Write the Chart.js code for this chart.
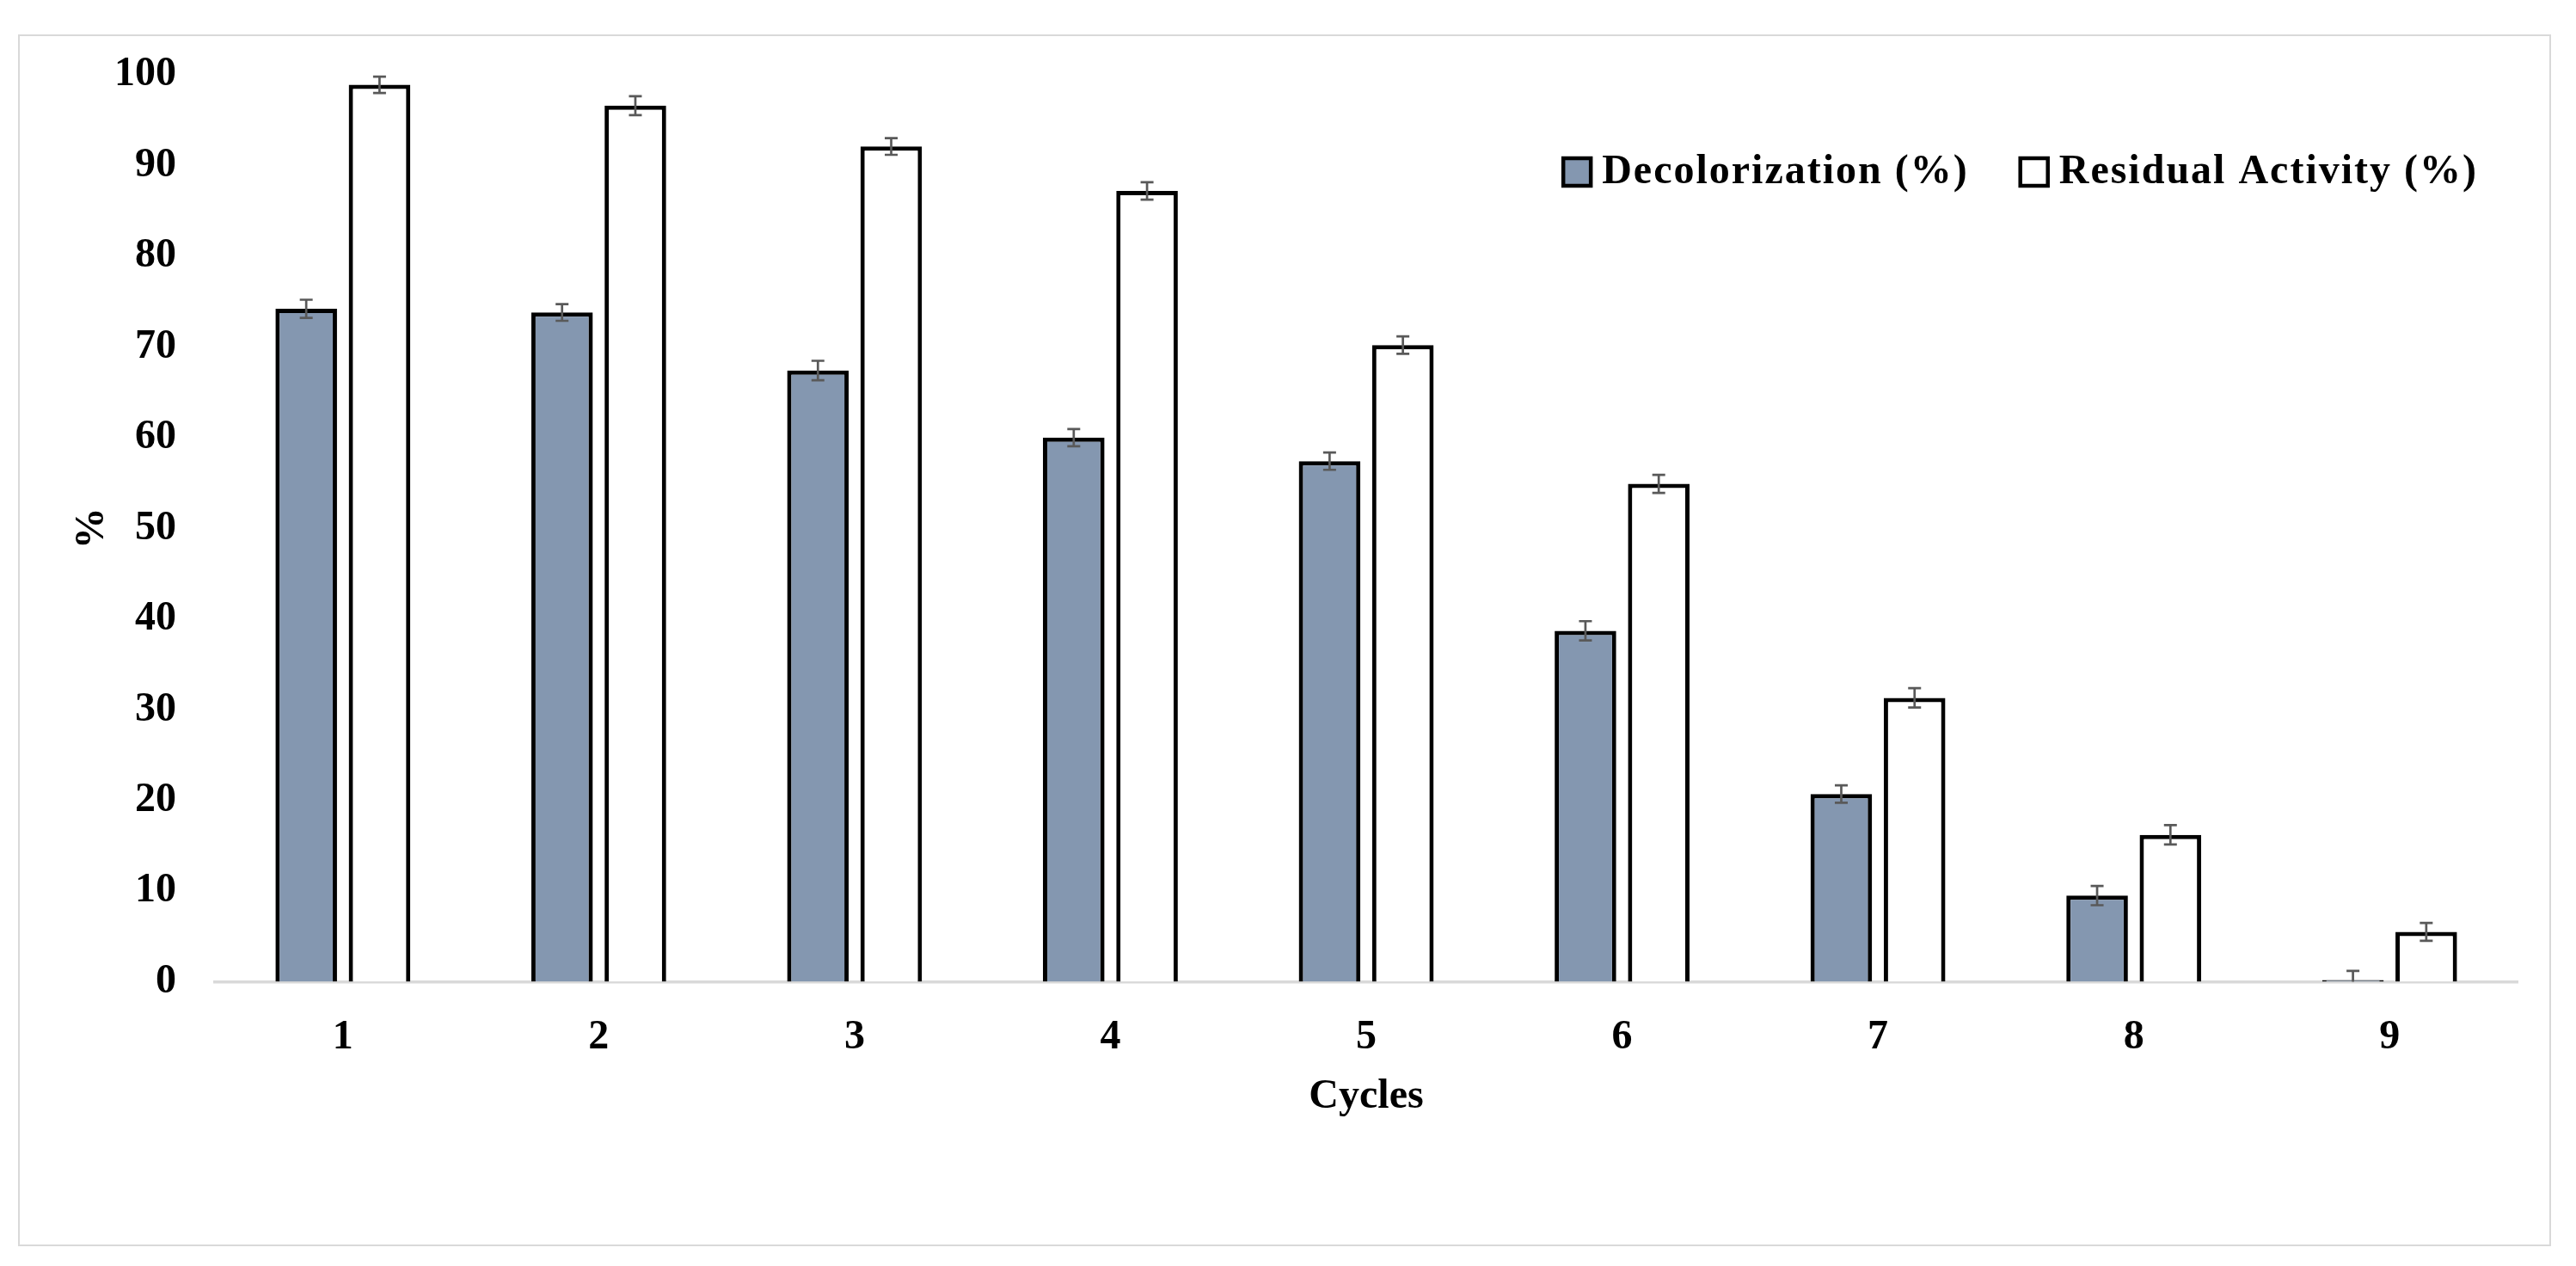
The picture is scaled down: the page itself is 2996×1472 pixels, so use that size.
<!DOCTYPE html>
<html>
<head>
<meta charset="utf-8">
<script src="https://cdn.jsdelivr.net/npm/chart.js@4.4.1/dist/chart.umd.min.js"></script>
<style>
  html, body { margin: 0; padding: 0; background: #ffffff; overflow: hidden; }
  #wrap { position: relative; width: 2996px; height: 1472px; }
  #frame { position: absolute; left: 21px; top: 40px; width: 2942px; height: 1405px;
           border: 2.5px solid #d9d9d9; pointer-events: none; }
  canvas { position: absolute; left: 0; top: 0; }
</style>
</head>
<body>
<div id="wrap">
  <canvas id="c" width="2996" height="1472"></canvas>
  <div id="frame"></div>
</div>
<script>
// ---- data ----
const cycles = ['1', '2', '3', '4', '5', '6', '7', '8', '9'];
const decolorization = [74.2, 73.8, 67.4, 60.0, 57.4, 38.7, 20.7, 9.5, 0.2];
const decolorizationErr = [1.0, 0.92, 1.07, 0.95, 0.95, 1.06, 0.96, 1.06, 1.0];
const residualActivity = [98.9, 96.6, 92.1, 87.2, 70.2, 54.9, 31.3, 16.2, 5.5];
const residualActivityErr = [0.9, 1.04, 0.92, 0.96, 0.96, 1.0, 1.07, 1.07, 0.98];
const yTicks = [0, 10, 20, 30, 40, 50, 60, 70, 80, 90, 100];

const seriesLabels = ['Decolorization (%)', 'Residual Activity (%)'];
const errors = [decolorizationErr, residualActivityErr];

const FONT = '"Liberation Serif", "Times New Roman", serif';

const errorBarPlugin = {
  id: 'errorBars',
  afterDatasetsDraw(chart) {
    const ctx = chart.ctx;
    const yScale = chart.scales.y;
    ctx.save();
    ctx.strokeStyle = '#595959';
    ctx.lineWidth = 2.7;
    chart.data.datasets.forEach((ds, di) => {
      const meta = chart.getDatasetMeta(di);
      meta.data.forEach((el, i) => {
        const v = ds.data[i];
        const e = errors[di][i];
        const x = el.x;
        const yHi = yScale.getPixelForValue(v + e);
        const yLo = yScale.getPixelForValue(Math.max(v - e, 0));
        const cap = 7.5;
        ctx.beginPath();
        ctx.moveTo(x, yHi); ctx.lineTo(x, yLo);
        ctx.moveTo(x - cap, yHi); ctx.lineTo(x + cap, yHi);
        if (v - e > 0) { ctx.moveTo(x - cap, yLo); ctx.lineTo(x + cap, yLo); }
        ctx.stroke();
      });
    });
    ctx.restore();
  }
};

// legend drawn inside the plot area, top-right, from the library's generated legend items
const insideLegendPlugin = {
  id: 'insideLegend',
  afterDraw(chart) {
    const ctx = chart.ctx;
    const area = chart.chartArea;
    const items = Chart.defaults.plugins.legend.labels.generateLabels(chart);
    const fontSize = 48;
    const box = 32, gapText = 13, itemGap = 60;
    ctx.save();
    ctx.font = 'bold ' + fontSize + 'px ' + FONT;
    if ('letterSpacing' in ctx) ctx.letterSpacing = '2px';
    ctx.textBaseline = 'middle';
    ctx.textAlign = 'left';
    const y = area.top + 113;
    let right = area.right - 46;
    const pos = [];
    for (let i = items.length - 1; i >= 0; i--) {
      const w = ctx.measureText(items[i].text).width;
      const textX = right - w;
      const boxX = textX - gapText - box;
      pos[i] = { textX, boxX };
      right = boxX - itemGap;
    }
    items.forEach((it, i) => {
      const p = pos[i];
      ctx.fillStyle = it.fillStyle;
      ctx.fillRect(p.boxX, y - box / 2, box, box);
      ctx.lineWidth = 4.5;
      ctx.strokeStyle = it.strokeStyle;
      ctx.strokeRect(p.boxX, y - box / 2, box, box);
      ctx.fillStyle = '#000000';
      ctx.fillText(it.text, p.textX, y + 1);
    });
    ctx.restore();
  }
};

new Chart(document.getElementById('c'), {
  type: 'bar',
  data: {
    labels: cycles,
    datasets: [
      {
        label: seriesLabels[0],
        data: decolorization,
        backgroundColor: '#8497b0',
        borderColor: '#000000',
        borderWidth: 5,
        categoryPercentage: 0.573,
        barPercentage: 0.84
      },
      {
        label: seriesLabels[1],
        data: residualActivity,
        backgroundColor: '#ffffff',
        borderColor: '#000000',
        borderWidth: 5,
        categoryPercentage: 0.573,
        barPercentage: 0.84
      }
    ]
  },
  options: {
    responsive: false,
    devicePixelRatio: 1,
    animation: false,
    layout: { padding: { left: 76, right: 68, top: 87, bottom: 168 } },
    plugins: {
      tooltip: { enabled: false },
      legend: { display: false }
    },
    scales: {
      x: {
        z: 1,
        grid: { display: false, drawTicks: false },
        border: { display: true, color: '#d9d9d9', width: 3.5 },
        ticks: { color: '#000000', font: { family: FONT, size: 48, weight: 'bold' }, padding: 36 },
        title: { display: true, text: 'Cycles', color: '#000000',
                 font: { family: FONT, size: 48, weight: 'bold' }, padding: { top: 0, bottom: 0 } },
        afterFit(scale) { scale.height = 162.5; }
      },
      y: {
        min: 0,
        max: 100,
        afterBuildTicks(scale) { scale.ticks = yTicks.map(v => ({ value: v })); },
        grid: { display: false, drawTicks: false },
        border: { display: false },
        ticks: { color: '#000000', font: { family: FONT, size: 48, weight: 'bold' }, padding: 45 },
        title: { display: true, text: '%', color: '#000000',
                 font: { family: FONT, size: 48, weight: 'bold' }, padding: { top: 3, bottom: 0 } },
        afterFit(scale) { scale.width = 174; }
      }
    }
  },
  plugins: [errorBarPlugin, insideLegendPlugin]
});
</script>
</body>
</html>
